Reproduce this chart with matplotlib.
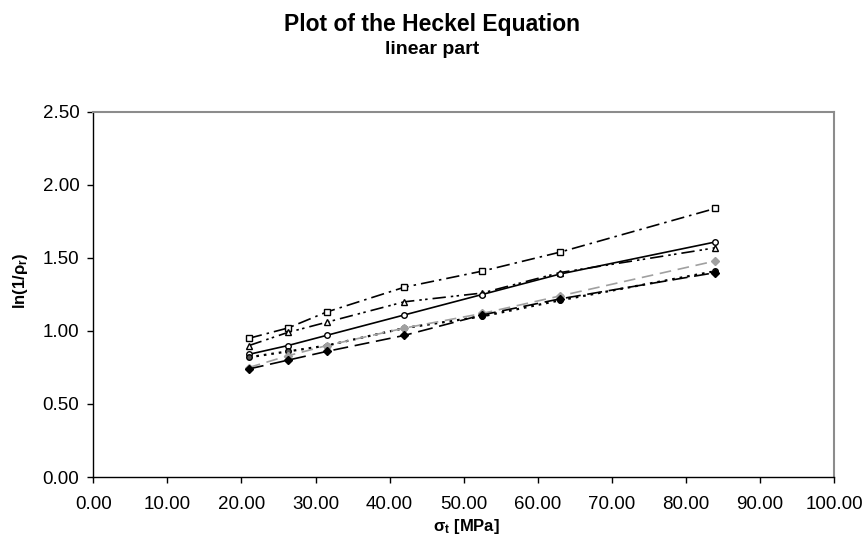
import matplotlib
matplotlib.use("Agg")
import matplotlib.pyplot as plt

plt.rcParams['font.family'] = ['Liberation Sans', 'DejaVu Sans']
plt.rcParams['mathtext.fontset'] = 'custom'
plt.rcParams['mathtext.rm'] = 'Liberation Sans'
plt.rcParams['mathtext.bf'] = 'Liberation Sans:bold'

# Compaction pressure [MPa]
pressure = [21.0, 26.25, 31.5, 42.0, 52.5, 63.0, 84.0]

# ln(1/rho_r) for each sample
series_squares = [0.95, 1.02, 1.13, 1.30, 1.41, 1.54, 1.84]
series_triangles = [0.90, 0.99, 1.06, 1.20, 1.26, 1.40, 1.57]
series_circles = [0.84, 0.90, 0.97, 1.11, 1.25, 1.39, 1.61]
series_dots = [0.82, 0.86, 0.90, 1.02, 1.10, 1.21, 1.41]
series_grey = [0.75, 0.83, 0.90, 1.02, 1.12, 1.24, 1.48]
series_diamonds = [0.74, 0.80, 0.86, 0.97, 1.11, 1.22, 1.40]

x_ticks = [0, 10, 20, 30, 40, 50, 60, 70, 80, 90, 100]
y_ticks = [0.0, 0.5, 1.0, 1.5, 2.0, 2.5]

fig = plt.figure(figsize=(8.65, 5.49), dpi=100)
ax = fig.add_axes([93.3 / 865, 1 - 477 / 549, (834 - 93.3) / 865, (477 - 112) / 549])

lw = 1.2
ms = 4
ax.plot(pressure, series_squares, color='black', lw=lw, dashes=(8, 3, 1.5, 3),
        marker='s', ms=ms, mfc='white', mec='black', mew=1.0)
ax.plot(pressure, series_triangles, color='black', lw=lw, dashes=(8, 3, 1.5, 2, 1.5, 3),
        marker='^', ms=ms + 0.5, mfc='white', mec='black', mew=1.0)
ax.plot(pressure, series_circles, color='black', lw=lw, linestyle='-',
        marker='o', ms=ms, mfc='white', mec='black', mew=1.0)
ax.plot(pressure, series_dots, color='black', lw=lw + 0.4, dashes=(1.2, 2.2),
        marker='o', ms=ms, mfc='#555555', mec='black', mew=1.0)
ax.plot(pressure, series_grey, color='#a0a0a0', lw=lw, dashes=(7, 4),
        marker='D', ms=ms, mfc='#a0a0a0', mec='#a0a0a0')
ax.plot(pressure, series_diamonds, color='black', lw=lw, dashes=(9, 4),
        marker='D', ms=ms, mfc='black', mec='black')

ax.set_xlim(0, 100)
ax.set_ylim(0, 2.5)
ax.set_xticks(x_ticks)
ax.set_yticks(y_ticks)
ax.set_xticklabels([f"{v:.2f}" for v in x_ticks])
ax.set_yticklabels([f"{v:.2f}" for v in y_ticks])
ax.tick_params(direction='out', length=4, width=1, labelsize=13.5, colors='black')
ax.tick_params(axis='y', pad=6)
ax.tick_params(axis='x', pad=10)

for side in ('left', 'bottom'):
    ax.spines[side].set_color('black')
    ax.spines[side].set_linewidth(1.0)
for side in ('top', 'right'):
    ax.spines[side].set_color('#8c8c8c')
    ax.spines[side].set_linewidth(1.5)

fig.text(0.5, 1 - 24 / 549, "Plot of the Heckel Equation", ha='center', va='center',
         fontsize=16.5, fontweight='bold')
fig.text(0.5, 1 - 49 / 549, "linear part", ha='center', va='center',
         fontsize=14, fontweight='bold')
fig.text(466 / 865, 1 - 526 / 549, r"$\mathbf{\sigma_t}$ [MPa]", ha='center', va='center',
         fontsize=12, fontweight='bold')
fig.text(21 / 865, 1 - 281 / 549, r"ln(1/$\mathbf{\rho_r}$)", ha='center', va='center',
         fontsize=12, fontweight='bold', rotation=90)

fig.savefig("out.png", dpi=100, facecolor='white')
